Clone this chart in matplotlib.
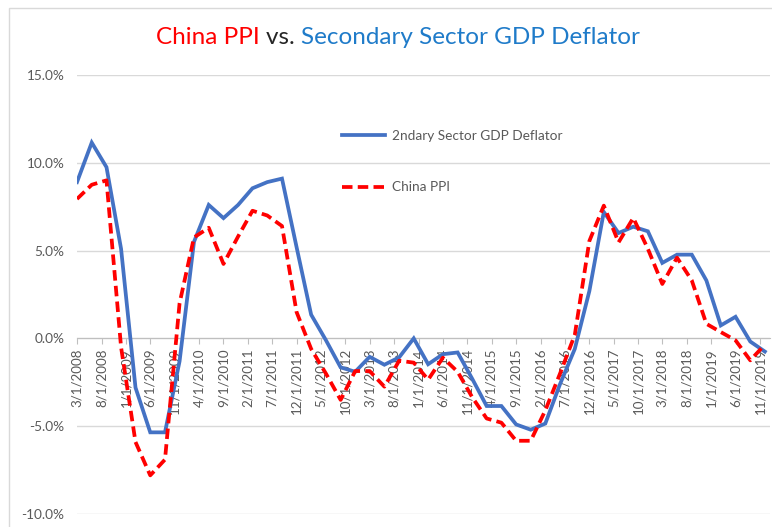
import matplotlib
matplotlib.use("Agg")
import matplotlib.pyplot as plt
import matplotlib.dates as mdates
from matplotlib.patches import Rectangle
from matplotlib.ticker import FuncFormatter
import pandas as pd

plt.rcParams['font.family'] = ['Lato', 'DejaVu Sans']

# quarterly observations, 3/1/2008 .. 12/1/2019
dates = pd.date_range("2008-03-01", periods=48, freq="3MS")

# 2ndary Sector GDP Deflator, % y/y
deflator = [8.9, 11.15, 9.75, 5.1, -2.8, -5.35, -5.35, -1.3,
            5.5, 7.6, 6.85, 7.6, 8.55, 8.9, 9.1, 5.2,
            1.35, -0.1, -1.65, -1.9, -1.05, -1.5, -1.08, 0.0,
            -1.47, -0.9, -0.8, -2.3, -3.85, -3.85, -4.9, -5.2,
            -4.85, -2.6, -0.6, 2.7, 7.2, 6.0, 6.36, 6.1,
            4.3, 4.77, 4.77, 3.3, 0.74, 1.23, -0.18, -0.75]

# China PPI, % y/y
ppi = [7.94, 8.75, 9.0, -0.5, -5.9, -7.8, -6.9, 2.0,
       5.75, 6.3, 4.24, 5.8, 7.27, 7.0, 6.4, 1.5,
       -0.6, -2.0, -3.5, -1.86, -1.86, -2.75, -1.27, -1.38,
       -2.35, -1.1, -1.9, -3.35, -4.56, -4.8, -5.83, -5.83,
       -4.1, -2.0, 0.2, 5.55, 7.56, 5.47, 6.86, 5.1,
       3.1, 4.6, 3.3, 0.83, 0.36, -0.11, -1.25, -0.35]

yticks = [-10, -5, 0, 5, 10, 15]
tick_dates = pd.date_range("2008-03-01", "2019-11-01", freq="5MS")

grey_txt = "#595959"

fig = plt.figure(figsize=(7.72, 5.27), dpi=100)
fig.patches.append(Rectangle((9 / 772, -0.1), 1.2, 1 - 8 / 527 + 0.1,
                             transform=fig.transFigure, fill=False,
                             edgecolor="#D9D9D9", linewidth=1.0))

ax = fig.add_axes([77 / 772, 1 - 514 / 527, 693 / 772, 439 / 527])

ax.plot(dates, deflator, color="#4472C4", linewidth=2.7,
        label="2ndary Sector GDP Deflator", solid_joinstyle="miter")
ax.plot(dates, ppi, color="#FF0000", linewidth=2.7, linestyle=(0, (2.8, 1.4)),
        label="China PPI")

ax.set_ylim(-10, 15)
ax.set_yticks(yticks)
ax.yaxis.set_major_formatter(FuncFormatter(lambda v, p: f"{v:.1f}%"))
ax.set_xlim(pd.Timestamp("2008-03-01"), pd.Timestamp("2020-01-02"))
ax.set_xticks(tick_dates)
ax.xaxis.set_major_formatter(
    FuncFormatter(lambda v, p: (lambda d: f"{d.month}/{d.day}/{d.year}")(mdates.num2date(v))))

ax.grid(axis="y", color="#D9D9D9", linewidth=1.0)
ax.set_axisbelow(True)
for s in ["top", "right", "left"]:
    ax.spines[s].set_visible(False)
ax.spines["bottom"].set_position(("data", 0))
ax.spines["bottom"].set_color("#BFBFBF")
ax.spines["bottom"].set_zorder(1)

ax.tick_params(axis="y", length=0, pad=9, labelsize=9.8, labelcolor=grey_txt)
ax.tick_params(axis="x", length=4, width=0.8, color="#BFBFBF", pad=3,
               labelsize=9.6, labelcolor=grey_txt, labelrotation=90)

leg = ax.legend(loc="upper left", bbox_to_anchor=(265 / 693, 384 / 439),
                frameon=False, fontsize=9.8, handlelength=3.16, handletextpad=0.5,
                labelspacing=2.9, borderpad=0, borderaxespad=0)
for t in leg.get_texts():
    t.set_color(grey_txt)

# multi-coloured title
parts = [("China PPI ", "#FF0000"), ("vs. ", "#262626"),
         ("Secondary Sector GDP Deflator", "#1F7BC9")]
fig.canvas.draw()
r = fig.canvas.get_renderer()
texts = [fig.text(0, 1 - 38 / 527, s, color=c, fontsize=17.5, va="center")
         for s, c in parts]
widths = [t.get_window_extent(renderer=r).width for t in texts]
x = (398 - sum(widths) / 2) / 772
for t, w in zip(texts, widths):
    t.set_x(x)
    x += w / 772

fig.savefig("out.png", dpi=100)
